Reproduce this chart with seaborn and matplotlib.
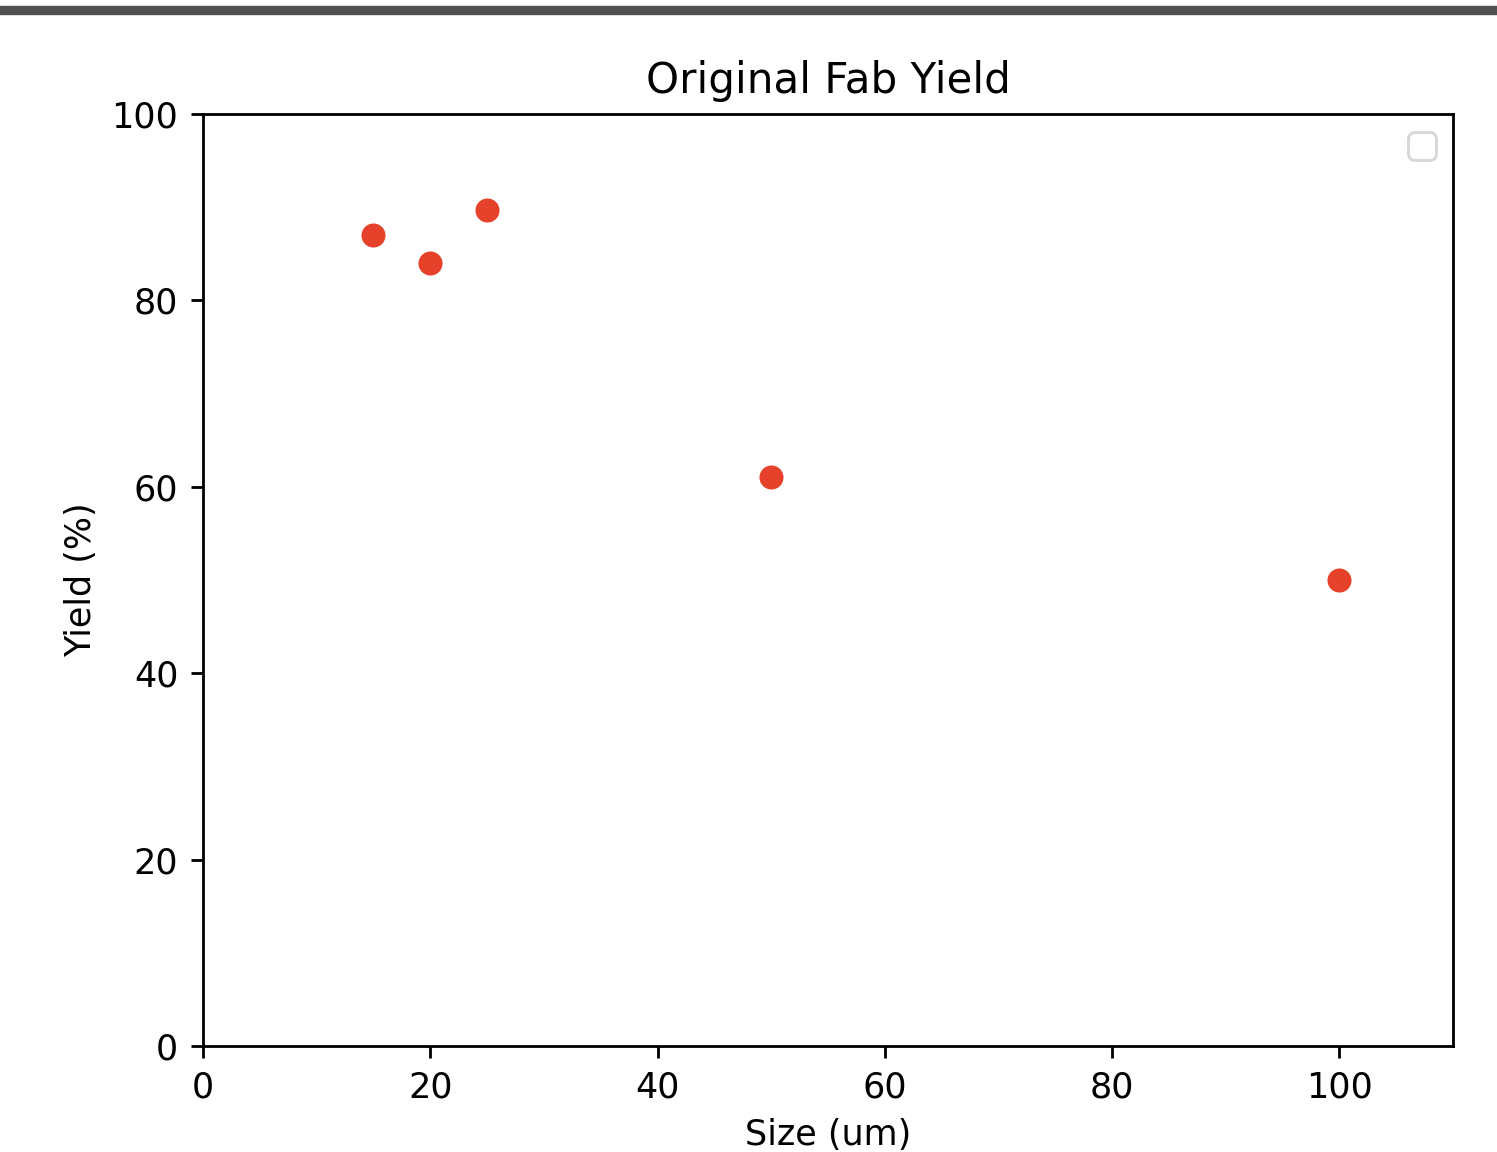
import pandas as pd
import matplotlib
matplotlib.use("Agg")
import matplotlib.pyplot as plt
import seaborn as sns
from matplotlib.patches import Rectangle

# data
sizes_um = [15, 20, 25, 50, 100]
yield_pct = [87.0, 84.0, 89.7, 61.0, 50.0]
x_ticks = [0, 20, 40, 60, 80, 100]
y_ticks = [0, 20, 40, 60, 80, 100]

df = pd.DataFrame({"Size (um)": sizes_um, "Yield (%)": yield_pct})

# screenshot is a default matplotlib figure blown up ~2.52x
k = 2.52
plt.rcParams["font.family"] = ["DejaVu Sans"]
plt.rcParams["font.size"] = 10 * k
plt.rcParams["axes.linewidth"] = 0.8 * k
for ax_name in ["xtick", "ytick"]:
    plt.rcParams[f"{ax_name}.major.size"] = 3.5 * k
    plt.rcParams[f"{ax_name}.major.width"] = 0.8 * k
    plt.rcParams[f"{ax_name}.major.pad"] = 3.5 * k

fig = plt.figure(figsize=(14.97, 11.52), dpi=100)
ax = fig.add_axes([203 / 1497, 106 / 1152, 1250 / 1497, 932 / 1152])

sns.scatterplot(data=df, x="Size (um)", y="Yield (%)", ax=ax,
                color="#e6412b", s=300, linewidth=0)

ax.set_xlim(0, 110)
ax.set_ylim(0, 100)
ax.set_xticks(x_ticks)
ax.set_yticks(y_ticks)
ax.set_title("Original Fab Yield", fontsize=12 * k, pad=6 * k)
ax.set_xlabel("Size (um)", labelpad=4 * k)
ax.set_ylabel("Yield (%)", labelpad=4 * k)

# empty legend box, as in the original
leg = ax.legend(handles=[], loc="upper right")
leg.get_frame().set_linewidth(0.8 * k)

# dark bar across the top of the screenshot
fig.add_artist(Rectangle((0, 1 - 14 / 1152), 1, 8 / 1152, transform=fig.transFigure,
                         color="#505050", zorder=10))

fig.savefig("out.png", dpi=100)
